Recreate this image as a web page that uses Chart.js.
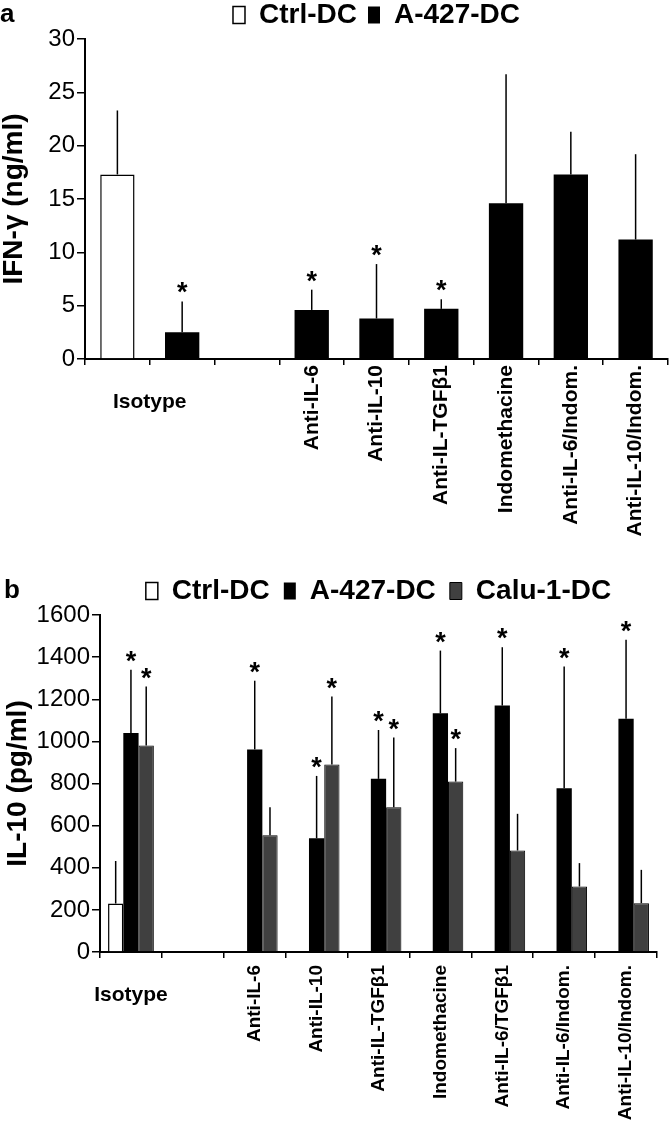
<!DOCTYPE html>
<html>
<head>
<meta charset="utf-8">
<script src="https://cdn.jsdelivr.net/npm/chart.js@4.4.0/dist/chart.umd.min.js"></script>
<style>
  body { margin: 0; background: #fff; }
  #wrap { position: relative; width: 669px; height: 1128px; }
  canvas { position: absolute; left: 0; }
  #chartA { top: 0; }
  #chartB { top: 560px; }
</style>
</head>
<body>
<div id="wrap">
  <canvas id="chartA" width="669" height="560"></canvas>
  <canvas id="chartB" width="669" height="568"></canvas>
</div>
<script>
// Panel a - IFN-gamma (ng/ml)
const categoriesA = ["Isotype", "Isotype", "", "Anti-IL-6", "Anti-IL-10", "Anti-IL-TGFβ1",
  "Indomethacine", "Anti-IL-6/Indom.", "Anti-IL-10/Indom."];
const ticksA = [0, 5, 10, 15, 20, 25, 30];
const ctrlA = [17.3, null, null, null, null, null, null, null, null];
const ctrlAErr = [23.3, null, null, null, null, null, null, null, null];
const ctrlAStars = [false, false, false, false, false, false, false, false, false];
const a427A = [null, 2.5, null, 4.6, 3.8, 4.7, 14.6, 17.3, 11.2];
const a427AErr = [null, 5.4, null, 6.5, 8.9, 5.6, 26.7, 21.3, 19.2];
const a427AStars = [false, true, false, true, true, true, false, false, false];

// Panel b - IL-10 (pg/ml)
const categoriesB = ["Isotype", "", "Anti-IL-6", "Anti-IL-10", "Anti-IL-TGFβ1", "Indomethacine",
  "Anti-IL-6/TGFβ1", "Anti-IL-6/Indom.", "Anti-IL-10/Indom."];
const ticksB = [0, 200, 400, 600, 800, 1000, 1200, 1400, 1600];
const ctrlB = [230, null, null, null, null, null, null, null, null];
const ctrlBErr = [432, null, null, null, null, null, null, null, null];
const ctrlBStars = [false, false, false, false, false, false, false, false, false];
const a427B = [1040, null, 962, 540, 822, 1133, 1170, 778, 1107];
const a427BErr = [1340, null, 1288, 836, 1054, 1431, 1447, 1355, 1482];
const a427BStars = [true, false, true, true, true, true, true, true, true];
const caluB = [980, null, 554, 890, 687, 809, 482, 311, 232];
const caluBErr = [1260, null, 687, 1213, 1018, 968, 656, 422, 390];
const caluBStars = [true, false, false, true, true, true, false, false, false];

Chart.defaults.font.family = "'Liberation Sans', Arial, sans-serif";
Chart.defaults.color = "#000";

// upper error bars + significance stars
const errorBarPlugin = {
  id: "errorBars",
  afterDatasetsDraw(chart) {
    const ctx = chart.ctx;
    const yScale = chart.scales.y;
    chart.data.datasets.forEach((ds, di) => {
      const meta = chart.getDatasetMeta(di);
      meta.data.forEach((bar, i) => {
        if (ds.data[i] == null || ds.errorTop[i] == null) return;
        const yTop = yScale.getPixelForValue(ds.errorTop[i]);
        ctx.save();
        ctx.strokeStyle = "#000";
        ctx.lineWidth = 1.5;
        ctx.beginPath();
        ctx.moveTo(bar.x, bar.y);
        ctx.lineTo(bar.x, yTop);
        ctx.stroke();
        if (ds.stars[i]) {
          ctx.fillStyle = "#000";
          ctx.font = "bold 27px 'Liberation Sans', Arial";
          ctx.textAlign = "center";
          ctx.textBaseline = "alphabetic";
          ctx.fillText("*", bar.x, yTop);
        }
        ctx.restore();
      });
    });
  }
};

// panel letter and the horizontal "Isotype" label
const extraTextPlugin = {
  id: "extraText",
  afterDraw(chart, args, opts) {
    const ctx = chart.ctx;
    const xScale = chart.scales.x;
    ctx.save();
    ctx.fillStyle = "#000";
    ctx.font = "bold 26px 'Liberation Sans', Arial";
    ctx.textAlign = "left";
    ctx.textBaseline = "alphabetic";
    ctx.fillText(opts.letter, opts.letterX, opts.letterY);
    const idx = [];
    chart.data.labels.forEach((l, i) => { if (l === "Isotype") idx.push(i); });
    const cx = idx.reduce((s, i) => s + xScale.getPixelForValue(i), 0) / idx.length;
    ctx.font = "bold 21px 'Liberation Sans', Arial";
    ctx.textAlign = "center";
    ctx.textBaseline = "top";
    ctx.fillText("Isotype", cx, xScale.top + 33);
    ctx.restore();
  }
};

function hideIsotype(value) {
  const l = this.getLabelForValue(value);
  return l === "Isotype" ? "" : l;
}

function axisOpts(cfg) {
  return {
    x: {
      grid: { drawOnChartArea: false, offset: true, color: "#000", tickLength: 6, lineWidth: 1.5 },
      border: { color: "#000", width: 2 },
      ticks: { autoSkip: false, minRotation: 90, maxRotation: 90, padding: cfg.xPad,
        font: { size: cfg.xFont, weight: "bold" }, callback: hideIsotype },
      afterFit(s) { s.height = cfg.xHeight; }
    },
    y: {
      min: cfg.ticks[0],
      max: cfg.ticks[cfg.ticks.length - 1],
      afterBuildTicks(s) { s.ticks = cfg.ticks.map(v => ({ value: v })); },
      grid: { drawOnChartArea: false, color: "#000", tickLength: 8, lineWidth: 1.5 },
      border: { color: "#000", width: 2 },
      ticks: { font: { size: 24 }, padding: 2, callback: v => String(v) },
      title: { display: true, text: cfg.title, font: { size: 28, weight: "bold", lineHeight: 1 },
        padding: { top: cfg.titlePad, bottom: 0 } },
      afterFit(s) { s.width = cfg.yWidth; }
    }
  };
}

new Chart(document.getElementById("chartA"), {
  type: "bar",
  data: {
    labels: categoriesA,
    datasets: [
      { label: "Ctrl-DC", data: ctrlA, errorTop: ctrlAErr, stars: ctrlAStars,
        backgroundColor: "#fff", borderColor: "#000", borderWidth: 1.5 },
      { label: "A-427-DC", data: a427A, errorTop: a427AErr, stars: a427AStars,
        backgroundColor: "#000", borderColor: "#000", borderWidth: 0 }
    ]
  },
  options: {
    responsive: false,
    animation: false,
    devicePixelRatio: 1,
    grouped: false,
    barPercentage: 1,
    categoryPercentage: 0.53,
    layout: { padding: { top: -10, right: 1, bottom: 0, left: 0 } },
    plugins: {
      legend: { position: "top", fullSize: false,
        labels: { font: { size: 28, weight: "bold" }, boxWidth: 12, boxHeight: 17, padding: 11 } },
      tooltip: { enabled: false },
      extraText: { letter: "a", letterX: 0, letterY: 22 }
    },
    scales: axisOpts({ ticks: ticksA, title: "IFN-γ (ng/ml)", titlePad: 0, yWidth: 85,
      xHeight: 201, xPad: 0, xFont: 21 })
  },
  plugins: [errorBarPlugin, extraTextPlugin]
});

new Chart(document.getElementById("chartB"), {
  type: "bar",
  data: {
    labels: categoriesB,
    datasets: [
      { label: "Ctrl-DC", data: ctrlB, errorTop: ctrlBErr, stars: ctrlBStars,
        backgroundColor: "#fff", borderColor: "#000", borderWidth: 1.5 },
      { label: "A-427-DC", data: a427B, errorTop: a427BErr, stars: a427BStars,
        backgroundColor: "#000", borderColor: "#000", borderWidth: 0 },
      { label: "Calu-1-DC", data: caluB, errorTop: caluBErr, stars: caluBStars,
        backgroundColor: "#404040", borderColor: "#000", borderWidth: 1 }
    ]
  },
  options: {
    responsive: false,
    animation: false,
    devicePixelRatio: 1,
    barPercentage: 1,
    categoryPercentage: 0.74,
    layout: { padding: { top: 3, right: 12, bottom: 0, left: 0 } },
    plugins: {
      legend: { position: "top", fullSize: false,
        labels: { font: { size: 28, weight: "bold" }, boxWidth: 12, boxHeight: 17, padding: 14 } },
      tooltip: { enabled: false },
      extraText: { letter: "b", letterX: 4, letterY: 38 }
    },
    scales: axisOpts({ ticks: ticksB, title: "IL-10 (pg/ml)", titlePad: 4, yWidth: 100,
      xHeight: 176, xPad: 7, xFont: 19 })
  },
  plugins: [errorBarPlugin, extraTextPlugin]
});
</script>
</body>
</html>
